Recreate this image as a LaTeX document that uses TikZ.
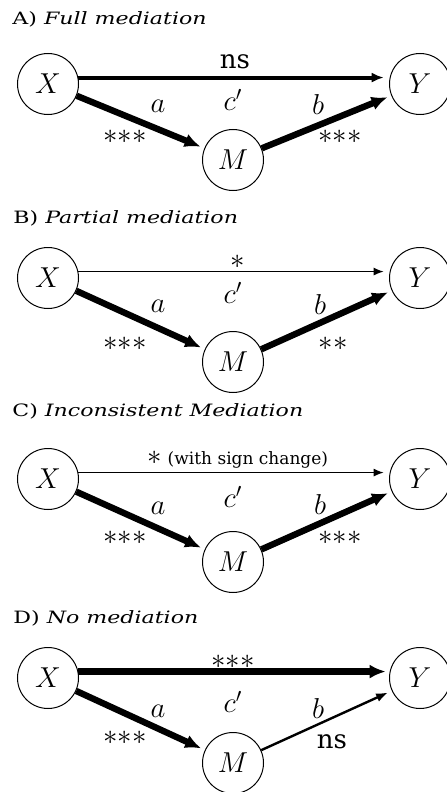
\documentclass[tikz,border=0pt]{standalone}
\usepackage{fontspec}
\setmainfont{DejaVu Serif}
\newfontfamily\titlefont[FakeStretch=1.3]{DejaVu Serif}
\usetikzlibrary{arrows.meta}

\begin{document}
\begin{tikzpicture}[
    x=0.5pt, y=-0.5pt,
    var/.style={draw, circle, line width=0.5pt, minimum size=30.5pt, inner sep=0pt, font=\Large},
    title/.style={anchor=west, inner sep=0pt, font=\titlefont\fontsize{8.5}{10}\selectfont},
    lab/.style={inner sep=0pt, font=\Large},
    note/.style={inner sep=0pt, font=\fontsize{13}{15}\selectfont},
    heavyarrow/.style={-{Latex[length=8pt,width=7pt]}, line width=3.2pt, shorten >=2pt},
    midarrow/.style={-{Latex[length=6pt,width=5pt]}, line width=2pt, shorten >=3pt},
    thinarrow/.style={-{Latex[length=5pt,width=4pt]}, line width=0.7pt, shorten >=3pt}
  ]
  \useasboundingbox (0,0) rectangle (446,792);

  % A) Full mediation
  \node[title] (t1) at (12,19) {A) \textit{Full mediation}};
  \node[var] (x1) at (48,84) {$X$};
  \node[var] (y1) at (420,84) {$Y$};
  \node[var] (m1) at (233,160) {$M$};
  \draw[midarrow] (x1.12) -- (y1.168);
  \draw[heavyarrow] (x1) -- (m1);
  \draw[heavyarrow] (m1) -- (y1);
  \node[note] (ns1) at (235,62) {ns};
  \node[lab] (c1) at (233,100) {$c'$};
  \node[lab] (a1) at (158,106) {$a$};
  \node[lab] (b1) at (318,104) {$b$};
  \node[lab] (sa1) at (125,137) {${\ast}{\ast}{\ast}$};
  \node[lab] (sb1) at (340,137) {${\ast}{\ast}{\ast}$};

  % B) Partial mediation
  \node[title] (t2) at (13,218) {B) \textit{Partial mediation}};
  \node[var] (x2) at (48,278) {$X$};
  \node[var] (y2) at (420,278) {$Y$};
  \node[var] (m2) at (233,362) {$M$};
  \draw[thinarrow] (x2.12) -- (y2.168);
  \draw[heavyarrow] (x2) -- (m2);
  \draw[heavyarrow] (m2) -- (y2);
  \node[lab] (s2) at (238,262) {$\ast$};
  \node[lab] (c2) at (233,293) {$c'$};
  \node[lab] (a2) at (158,306) {$a$};
  \node[lab] (b2) at (320,304) {$b$};
  \node[lab] (sa2) at (125,344) {${\ast}{\ast}{\ast}$};
  \node[lab] (sb2) at (333,344) {${\ast}{\ast}$};

  % C) Inconsistent mediation
  \node[title] (t3) at (12,411) {C) \textit{Inconsistent Mediation}};
  \node[var] (x3) at (48,479) {$X$};
  \node[var] (y3) at (420,479) {$Y$};
  \node[var] (m3) at (233,562) {$M$};
  \draw[thinarrow] (x3.12) -- (y3.168);
  \draw[heavyarrow] (x3) -- (m3);
  \draw[heavyarrow] (m3) -- (y3);
  \node[inner sep=0pt, font=\fontsize{8.5}{10}\selectfont] (s3) at (238,460) {{\Large$\ast$} (with sign change)};
  \node[lab] (c3) at (233,497) {$c'$};
  \node[lab] (a3) at (158,508) {$a$};
  \node[lab] (b3) at (320,504) {$b$};
  \node[lab] (sa3) at (125,538) {${\ast}{\ast}{\ast}$};
  \node[lab] (sb3) at (340,538) {${\ast}{\ast}{\ast}$};

  % D) No mediation
  \node[title] (t4) at (13,618) {D) \textit{No mediation}};
  \node[var] (x4) at (48,678) {$X$};
  \node[var] (y4) at (420,678) {$Y$};
  \node[var] (m4) at (233,763) {$M$};
  \draw[heavyarrow] (x4.12) -- (y4.168);
  \draw[heavyarrow] (x4) -- (m4);
  \draw[-{Latex[length=6pt,width=4.5pt]}, line width=1.2pt, shorten >=2pt] (m4) -- (y4);
  \node[lab] (s4) at (233,662) {${\ast}{\ast}{\ast}$};
  \node[lab] (c4) at (233,702) {$c'$};
  \node[lab] (a4) at (158,711) {$a$};
  \node[lab] (b4) at (318,708) {$b$};
  \node[lab] (sa4) at (125,738) {${\ast}{\ast}{\ast}$};
  \node[note] (ns4) at (332,742) {ns};
\end{tikzpicture}
\end{document}
